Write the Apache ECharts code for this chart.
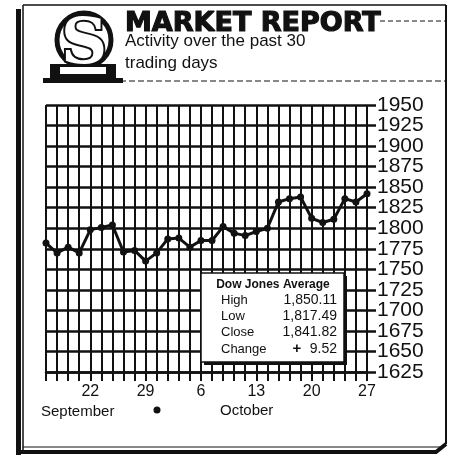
<!DOCTYPE html>
<html>
<head>
<meta charset="UTF-8">
<title>Market Report</title>
<script src="https://cdn.jsdelivr.net/npm/echarts@6/dist/echarts.min.js"></script>
<style>
  html, body { margin: 0; padding: 0; background: #fff; }
  #chart { width: 450px; height: 463px; }
</style>
</head>
<body>
<div id="chart"></div>
<script>
// 30 trading days, Sep 16 - Oct 27
var dates = ['Sep 16','Sep 17','Sep 18','Sep 19','Sep 22','Sep 23','Sep 24','Sep 25','Sep 26',
  'Sep 29','Sep 30','Oct 1','Oct 2','Oct 3','Oct 6','Oct 7','Oct 8','Oct 9','Oct 10',
  'Oct 13','Oct 14','Oct 15','Oct 16','Oct 17','Oct 20','Oct 21','Oct 22','Oct 23','Oct 24','Oct 27'];
var closes = [1782, 1770, 1777, 1770, 1798, 1801, 1804, 1771, 1773, 1760,
  1770, 1787, 1788, 1777, 1785, 1785, 1802, 1794, 1791, 1796,
  1800, 1832, 1836, 1838, 1812, 1807, 1811, 1836, 1832, 1842];
// dates that get a day number under the axis
var labelledDates = ['Sep 22', 'Sep 29', 'Oct 6', 'Oct 13', 'Oct 20', 'Oct 27'];
var yTicks = [1950, 1925, 1900, 1875, 1850, 1825, 1800, 1775, 1750, 1725, 1700, 1675, 1650, 1625];
var months = ['September', 'October'];

var statTitle = 'Dow Jones Average';
var statLabels = ['High', 'Low', 'Close', 'Change'];
var statValues = ['1,850.11', '1,817.49', '1,841.82', '9.52'];

var chart = echarts.init(document.getElementById('chart'), null, { renderer: 'canvas' });

var ink = '#111';
var font = '"Liberation Sans", Arial, sans-serif';

// logo + frame drawn as plain shapes
var graphics = [
  // frame
  { type: 'rect', shape: { x: 16, y: 9, width: 5, height: 446 }, style: { fill: ink } },
  { type: 'line', shape: { x1: 23, y1: 5, x2: 446, y2: 5 }, style: { stroke: ink, lineWidth: 1.5 } },
  { type: 'line', shape: { x1: 23, y1: 5, x2: 23, y2: 450 }, style: { stroke: ink, lineWidth: 1.5 } },
  { type: 'line', shape: { x1: 446, y1: 5, x2: 446, y2: 444 }, style: { stroke: ink, lineWidth: 2 } },
  { type: 'polyline', shape: { points: [[17, 452], [436, 452], [446, 444]] }, style: { stroke: ink, lineWidth: 4, fill: null } },
  { type: 'line', shape: { x1: 23, y1: 447, x2: 440, y2: 447 }, style: { stroke: ink, lineWidth: 1 } },
  // dashed rules
  { type: 'line', shape: { x1: 380, y1: 21, x2: 446, y2: 21 }, style: { stroke: ink, lineWidth: 1, lineDash: [5, 3] } },
  { type: 'line', shape: { x1: 120, y1: 81, x2: 446, y2: 81 }, style: { stroke: ink, lineWidth: 1, lineDash: [6, 3] } },
  // logo
  { type: 'circle', shape: { cx: 84, cy: 40, r: 27 }, style: { fill: null, stroke: ink, lineWidth: 5 } },
  { type: 'text', style: { text: 'S', x: 84, y: 46, align: 'center', verticalAlign: 'middle',
      font: 'bold 64px "DejaVu Serif", serif', fill: '#fff', stroke: ink, lineWidth: 4 } },
  { type: 'rect', shape: { x: 50, y: 64, width: 66, height: 14 }, style: { fill: ink } },
  { type: 'rect', shape: { x: 60, y: 67, width: 46, height: 7 }, style: { fill: '#fff' } },
  { type: 'rect', shape: { x: 43, y: 78, width: 80, height: 5 }, style: { fill: ink } },
  // heading
  { type: 'text', style: { text: 'MARKET REPORT', x: 125, y: 24, verticalAlign: 'middle',
      font: 'bold 27px "DejaVu Sans", sans-serif', fill: ink, stroke: ink, lineWidth: 1.2 } },
  { type: 'text', style: { text: 'Activity over the past 30', x: 125, y: 41, verticalAlign: 'middle',
      font: '17px ' + font, fill: ink } },
  { type: 'text', style: { text: 'trading days', x: 125, y: 63, verticalAlign: 'middle',
      font: '17px ' + font, fill: ink } },
  // month labels
  { type: 'text', style: { text: months[0], x: 41, y: 412, verticalAlign: 'middle', font: '15px ' + font, fill: ink } },
  { type: 'circle', shape: { cx: 157, cy: 410, r: 3.5 }, style: { fill: ink } },
  { type: 'text', style: { text: months[1], x: 220, y: 411, verticalAlign: 'middle', font: '15px ' + font, fill: ink } },
  // stats box
  { type: 'rect', shape: { x: 204, y: 276, width: 143, height: 89 }, style: { fill: ink } },
  { type: 'rect', shape: { x: 201, y: 273, width: 143, height: 89 }, style: { fill: '#fff', stroke: ink, lineWidth: 1.5 } },
  { type: 'text', style: { text: statTitle, x: 273, y: 285, align: 'center', verticalAlign: 'middle',
      font: 'bold 12px ' + font, fill: ink } }
];
var rowY = [300, 316.5, 332.5, 349.5];
statLabels.forEach(function (lab, i) {
  graphics.push({ type: 'text', style: { text: lab, x: 221, y: rowY[i], verticalAlign: 'middle',
    font: '13px ' + font, fill: ink } });
  graphics.push({ type: 'text', style: { text: statValues[i], x: 337, y: rowY[i], align: 'right', verticalAlign: 'middle',
    font: '14px ' + font, fill: ink } });
});
graphics.push({ type: 'text', style: { text: '+', x: 297, y: 349, align: 'center', verticalAlign: 'middle',
  font: 'bold 15px ' + font, fill: ink } });

var option = {
  animation: false,
  grid: { left: 46, top: 105, width: 321, height: 267, containLabel: false },
  xAxis: {
    type: 'category',
    data: dates,
    boundaryGap: false,
    axisLine: { show: true, lineStyle: { color: ink, width: 2.5 } },
    axisTick: { show: true, interval: 0, length: 9, lineStyle: { color: ink, width: 2 } },
    splitLine: { show: true, interval: 0, lineStyle: { color: ink, width: 2 } },
    axisLabel: {
      interval: 0,
      margin: 12,
      fontSize: 16,
      fontFamily: font,
      color: ink,
      formatter: function (v) {
        return labelledDates.indexOf(v) >= 0 ? v.split(' ')[1] : '';
      }
    }
  },
  yAxis: {
    type: 'value',
    position: 'right',
    min: 1625,
    max: 1950,
    interval: 25,
    axisLine: { show: false },
    axisTick: { show: true, length: 9, lineStyle: { color: ink, width: 2.5 } },
    splitLine: { show: true, lineStyle: { color: ink, width: 2.5 } },
    axisLabel: { show: false }
  },
  series: [{
    type: 'line',
    data: closes,
    symbol: 'circle',
    symbolSize: 7,
    lineStyle: { color: ink, width: 3 },
    itemStyle: { color: ink },
    z: 3
  }]
};
chart.setOption(option);

// y tick labels placed with the axis scale (too tightly packed for the built-in labels)
yTicks.forEach(function (v) {
  var y = chart.convertToPixel({ yAxisIndex: 0 }, v);
  graphics.push({ type: 'text', style: { text: String(v), x: 377, y: y, verticalAlign: 'middle',
    font: '21px ' + font, fill: ink } });
});
chart.setOption({ graphic: { elements: graphics.map(function (g) { g.z = 10; return g; }) } });
</script>
</body>
</html>
